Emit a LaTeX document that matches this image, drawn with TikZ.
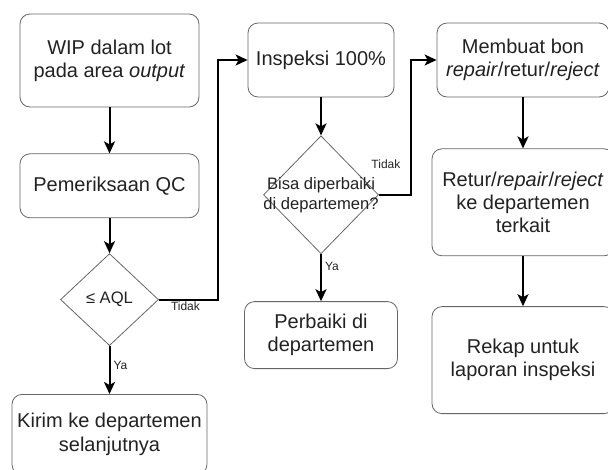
\documentclass[tikz,border=0pt]{standalone}
\usepackage{fontspec}
\setmainfont{Liberation Sans}
\usetikzlibrary{arrows.meta, positioning, shapes.geometric}
\definecolor{edgegray}{HTML}{666666}
\definecolor{textgray}{HTML}{222222}

\begin{document}
\begin{tikzpicture}[x=1pt, y=1pt,
  stepbox/.style={rectangle, rounded corners=10pt, draw=edgegray, line width=0.8pt,
                  align=center, text=textgray, inner sep=2pt,
                  font=\fontsize{20}{23.3}\selectfont},
  decision/.style={diamond, draw=edgegray, line width=0.8pt, inner sep=0pt},
  dectext/.style={align=center, text=textgray, font=\fontsize{16.6}{20}\selectfont},
  edgelabel/.style={text=textgray, font=\fontsize{12}{14}\selectfont, inner sep=1pt},
  arrow/.style={-{Stealth[length=12pt, width=11pt, inset=3pt]}, line width=2pt, color=black},
]
\useasboundingbox (0,0) rectangle (608,-469);

% Left column
\node[stepbox, minimum width=179pt, minimum height=93pt] (wip) at (109.5,-60.5) {WIP dalam lot\\pada area \textit{output}};
\node[stepbox, minimum width=179pt, minimum height=64pt, below=46pt of wip] (qc) {Pemeriksaan QC};
\node[decision, minimum width=98pt, minimum height=92pt, below=35pt of qc,
      label={[dectext]center:≤ AQL}] (aql) {};
\node[stepbox, minimum width=195pt, minimum height=80pt, below=48pt of aql] (kirim) {Kirim ke departemen\\selanjutnya};

% Middle column
\node[stepbox, minimum width=146pt, minimum height=74pt] (insp) at (321,-60) {Inspeksi 100\%};
\node[decision, minimum width=115pt, minimum height=118pt, below=38pt of insp,
      label={[dectext]center:{Bisa diperbaiki\\di departemen?}}] (rep) {};
\node[stepbox, minimum width=153pt, minimum height=67pt, below=47pt of rep] (fix) {Perbaiki di\\departemen};

% Right column
\node[stepbox, minimum width=172pt, minimum height=74pt] (bon) at (523,-60) {Membuat bon\\\textit{repair}/retur/\textit{reject}};
\node[stepbox, minimum width=182pt, minimum height=107pt, below=51pt of bon] (retur) {Retur/\textit{repair}/\textit{reject}\\ke departemen\\terkait};
\node[stepbox, minimum width=182pt, minimum height=107pt, below=50pt of retur] (rekap) {Rekap untuk\\laporan inspeksi};

% Connectors
\draw[arrow] (wip) -- (qc);
\draw[arrow] (qc) -- (aql);
\draw[arrow] (aql) -- node[edgelabel, right, pos=0.4, xshift=2pt] {Ya} (kirim);
\draw[arrow] (aql.east) -- node[edgelabel, below, pos=0.45] {Tidak} ++(59,0) |- (insp.west);
\draw[arrow] (insp) -- (rep);
\draw[arrow] (rep) -- node[edgelabel, right, pos=0.25, xshift=2pt] {Ya} (fix);
\draw[arrow] (rep.east) -- node[edgelabel, above=24pt, pos=0.22] {Tidak} ++(32,0) |- (bon.west);
\draw[arrow] (bon) -- (retur);
\draw[arrow] (retur) -- (rekap);
\end{tikzpicture}
\end{document}
